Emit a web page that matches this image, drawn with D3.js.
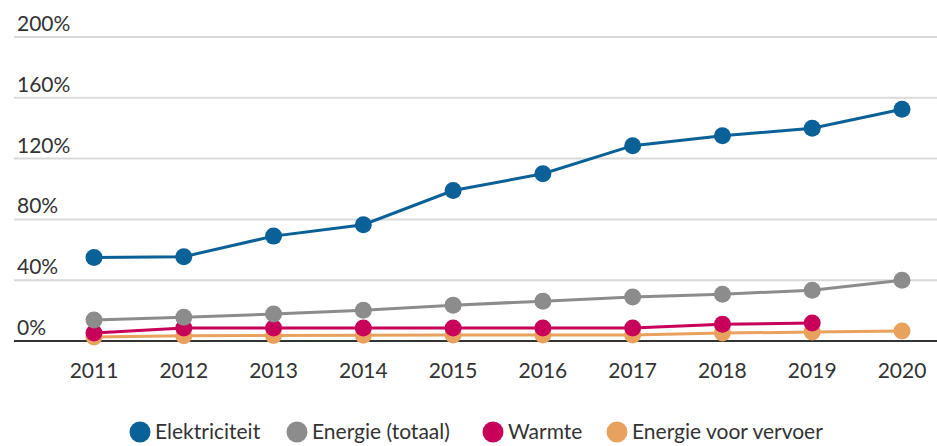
<!DOCTYPE html>
<html>
<head>
<meta charset="utf-8">
<script src="https://cdn.jsdelivr.net/npm/d3@7"></script>
<style>
  body { margin: 0; background: #fff; }
  svg text { font-family: Lato, "Open Sans", sans-serif; fill: #333; }
</style>
</head>
<body>
<div id="chart"></div>
<script>
var years = [2011, 2012, 2013, 2014, 2015, 2016, 2017, 2018, 2019, 2020];
var yTicks = [0, 40, 80, 120, 160, 200];

var elektriciteit = [55, 55.5, 69, 76.5, 99, 110, 128.5, 135, 140, 152.5];
var energieTotaal = [13.8, 15.7, 17.7, 20.3, 23.6, 26.2, 28.9, 30.8, 33.4, 40];
var warmte = [5.2, 8.5, 8.5, 8.5, 8.5, 8.5, 8.5, 11, 11.8, null];
var vervoer = [2.6, 3.4, 3.6, 3.8, 3.9, 3.9, 4, 5.2, 5.9, 6.6];

var seriesNames = ["Elektriciteit", "Energie (totaal)", "Warmte", "Energie voor vervoer"];
var seriesColors = ["#0a6197", "#8c8c8c", "#c8005a", "#e9a25e"];
var seriesValues = [elektriciteit, energieTotaal, warmte, vervoer];

var width = 937, height = 446;

var svg = d3.select("#chart").append("svg")
    .attr("width", width)
    .attr("height", height);

var x = d3.scalePoint().domain(years).range([94, 902]).padding(0);
var y = d3.scaleLinear().domain([0, 200]).range([341, 37]);

// gridlines + labels
var grid = svg.append("g");
grid.selectAll("line").data(yTicks.filter(function(d){ return d > 0; }))
  .enter().append("line")
    .attr("x1", 14).attr("x2", width)
    .attr("y1", function(d){ return y(d); })
    .attr("y2", function(d){ return y(d); })
    .attr("stroke", "#d9d9d9")
    .attr("stroke-width", 2);

grid.selectAll("text").data(yTicks)
  .enter().append("text")
    .attr("x", 17)
    .attr("y", function(d){ return y(d) - 6; })
    .attr("font-size", "21px")
    .text(function(d){ return d + "%"; });

// baseline
svg.append("line")
    .attr("x1", 14).attr("x2", width)
    .attr("y1", y(0)).attr("y2", y(0))
    .attr("stroke", "#333")
    .attr("stroke-width", 2);

// x axis labels
svg.append("g").selectAll("text").data(years)
  .enter().append("text")
    .attr("x", function(d){ return x(d); })
    .attr("y", 378)
    .attr("text-anchor", "middle")
    .attr("font-size", "21px")
    .text(function(d){ return d; });

var line = d3.line()
    .defined(function(d){ return d.v != null; })
    .x(function(d){ return x(d.year); })
    .y(function(d){ return y(d.v); });

// draw back to front so blue ends on top
for (var i = seriesValues.length - 1; i >= 0; i--) {
    var pts = years.map(function(yr, j){ return {year: yr, v: seriesValues[i][j]}; });
    var g = svg.append("g");
    g.append("path")
        .datum(pts)
        .attr("d", line)
        .attr("fill", "none")
        .attr("stroke", seriesColors[i])
        .attr("stroke-width", 3);
    g.selectAll("circle").data(pts.filter(function(d){ return d.v != null; }))
      .enter().append("circle")
        .attr("cx", function(d){ return x(d.year); })
        .attr("cy", function(d){ return y(d.v); })
        .attr("r", 8.5)
        .attr("fill", seriesColors[i]);
}

// legend
var legendX = [140, 297, 493, 617];
var legend = svg.append("g").selectAll("g").data(seriesNames)
  .enter().append("g")
    .attr("transform", function(d, i){ return "translate(" + legendX[i] + ",432)"; });

legend.append("circle")
    .attr("r", 10.5)
    .attr("fill", function(d, i){ return seriesColors[i]; });

legend.append("text")
    .attr("x", 15)
    .attr("dy", "0.35em")
    .attr("font-size", "21px")
    .text(function(d){ return d; });
</script>
</body>
</html>
